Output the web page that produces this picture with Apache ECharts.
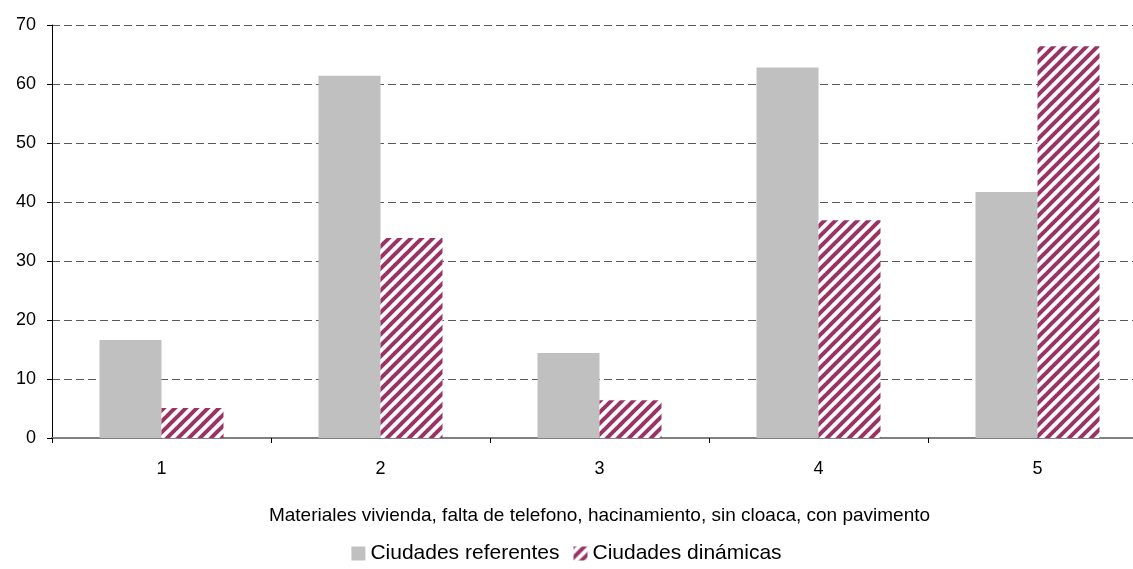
<!DOCTYPE html>
<html>
<head>
<meta charset="utf-8">
<script src="https://cdn.jsdelivr.net/npm/echarts@6/dist/echarts.min.js"></script>
<style>
  html, body { margin: 0; padding: 0; background: #fff; }
  #chart { width: 1133px; height: 569px; }
</style>
</head>
<body>
<div id="chart"></div>
<script>
// datos
const categories = ['1', '2', '3', '4', '5'];
const referentes = [16.6, 61.4, 14.4, 62.8, 41.7];
const dinamicas = [5.1, 33.9, 6.4, 36.9, 66.4];
const yTicks = { min: 0, max: 70, interval: 10 };

// patrón rayado diagonal
function stripePattern() {
  const s = 11;
  const c = document.createElement('canvas');
  c.width = s; c.height = s;
  const ctx = c.getContext('2d');
  ctx.fillStyle = '#fff';
  ctx.fillRect(0, 0, s, s);
  ctx.strokeStyle = '#993366';
  ctx.lineWidth = 4;
  for (let k = -1; k <= 1; k++) {
    ctx.beginPath();
    ctx.moveTo(-2 + k * s, s + 2);
    ctx.lineTo(s + 2 + k * s, -2);
    ctx.stroke();
  }
  return c;
}

const chart = echarts.init(document.getElementById('chart'));
const font = 'Liberation Sans, Arial, sans-serif';
const option = {
  animation: false,
  textStyle: { fontFamily: font },
  grid: { left: 52, width: 1095, top: 25, bottom: 131, outerBoundsMode: 'none' },
  legend: {
    bottom: 0,
    left: 'center',
    itemWidth: 14,
    itemHeight: 14,
    itemGap: 14,
    textStyle: { fontSize: 21, color: '#000', fontFamily: font },
    data: [
      { name: 'Ciudades referentes', icon: 'rect' },
      { name: 'Ciudades dinámicas', icon: 'rect' }
    ]
  },
  xAxis: {
    type: 'category',
    data: categories,
    name: 'Materiales vivienda, falta de telefono, hacinamiento, sin cloaca, con pavimento',
    nameLocation: 'middle',
    nameGap: 68,
    nameTextStyle: { fontSize: 19, color: '#000' },
    axisLine: { lineStyle: { color: '#808080', width: 2 } },
    axisTick: { show: true, length: 5, lineStyle: { color: '#000' } },
    axisLabel: { fontSize: 18, color: '#000', margin: 22 }
  },
  yAxis: {
    type: 'value',
    min: yTicks.min,
    max: yTicks.max,
    interval: yTicks.interval,
    axisLine: { show: true, lineStyle: { color: '#000', width: 1 } },
    axisTick: { show: true, length: 5, lineStyle: { color: '#000' } },
    axisLabel: { fontSize: 18, color: '#000', margin: 16 },
    splitLine: { lineStyle: { color: '#595959', type: [8, 4], width: 1 } }
  },
  series: [
    {
      name: 'Ciudades referentes',
      type: 'bar',
      data: referentes,
      barWidth: 62,
      barGap: '0%',
      itemStyle: { color: '#c0c0c0' }
    },
    {
      name: 'Ciudades dinámicas',
      type: 'bar',
      data: dinamicas,
      barWidth: 62,
      barGap: '0%',
      itemStyle: { color: { image: stripePattern(), repeat: 'repeat' } }
    }
  ]
};
chart.setOption(option);
</script>
</body>
</html>
